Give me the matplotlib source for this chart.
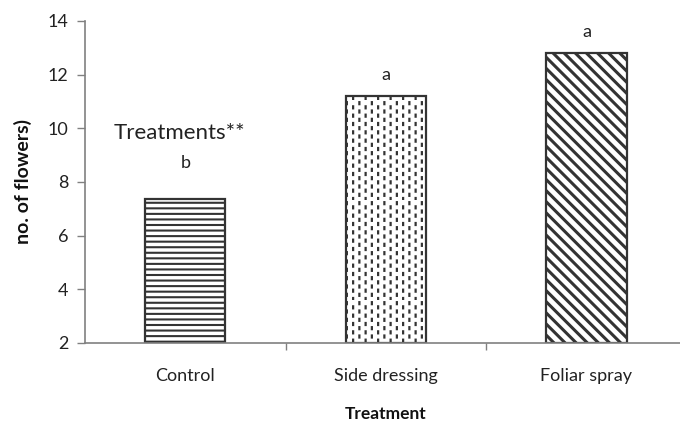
import warnings
import numpy as np
import matplotlib
matplotlib.use('Agg')
import matplotlib.pyplot as plt
import matplotlib.hatch as mhatch
from matplotlib.path import Path

warnings.filterwarnings("ignore")

categories = ["Control", "Side dressing", "Foliar spray"]
values = [7.35, 11.2, 12.8]
letters = ["b", "a", "a"]
y_ticks = [2, 4, 6, 8, 10, 12, 14]


class DashHatch(mhatch.HatchPatternBase):
    """Staggered short vertical dashes, triggered by 'i' in the hatch string."""

    def __init__(self, hatch, density):
        n = hatch.count('i')
        self.ncols = 16 * n
        self.nrows = 12 * n
        self.num_vertices = 2 * self.ncols * self.nrows

    def set_vertices_and_codes(self, vertices, codes):
        dash = 0.02
        k = 0
        for c in range(self.ncols):
            x = (c + 0.5) / self.ncols
            off = 0.5 if c % 2 else 0.0
            for r in range(self.nrows):
                y = (r + off) / self.nrows
                vertices[k] = (x, y)
                vertices[k + 1] = (x, y + dash)
                codes[k] = Path.MOVETO
                codes[k + 1] = Path.LINETO
                k += 2


mhatch._hatch_types.append(DashHatch)

plt.rcParams['font.family'] = ['Lato', 'DejaVu Sans']

fig = plt.figure(figsize=(6.8, 4.25), dpi=100)
ax = fig.add_axes([0.125, 0.193, 0.885, 0.758])

x = np.arange(len(categories))
hatches = ['---', 'i', '\\\\\\']
hatch_lw = [1.5, 1.6, 2.2]
for i in range(len(categories)):
    plt.rcParams['hatch.linewidth'] = hatch_lw[i]
    ax.bar(x[i], values[i] - 2, bottom=2, width=0.4, color='white',
           edgecolor='#333333', linewidth=1.6, hatch=hatches[i], zorder=2)

offsets = [26, 15, 15]
for i, (v, l) in enumerate(zip(values, letters)):
    ax.annotate(l, (x[i], v), xytext=(0, offsets[i]), textcoords='offset points',
                ha='center', va='center', fontsize=13, color='#222222')

ax.text(-0.03, 9.83, "Treatments**", ha='center', va='center', fontsize=16,
        color='#222222')

ax.set_xlim(-0.5, 2.5)
ax.set_ylim(2, 14)
ax.set_yticks(y_ticks)
ax.set_xticks(x)
ax.set_xticklabels(categories)
ax.set_xticks([0.5, 1.5, 2.5], minor=True)
ax.tick_params(axis='x', which='major', length=0, pad=18, labelsize=13,
               colors='#222222')
ax.tick_params(axis='x', which='minor', length=5, width=1, color='#808080',
               direction='out')
ax.tick_params(axis='y', length=6, width=1, color='#808080', pad=6,
               labelsize=13, labelcolor='#222222')

for s in ['top', 'right']:
    ax.spines[s].set_visible(False)
for s in ['left', 'bottom']:
    ax.spines[s].set_color('#808080')
    ax.spines[s].set_linewidth(1.2)

ax.set_xlabel("Treatment", fontsize=12.5, fontweight='bold', labelpad=16,
              color='#111111')
ax.set_ylabel("no. of flowers)", fontsize=14, fontweight='bold', labelpad=11,
              color='#111111')

fig.savefig("out.png", dpi=100)
